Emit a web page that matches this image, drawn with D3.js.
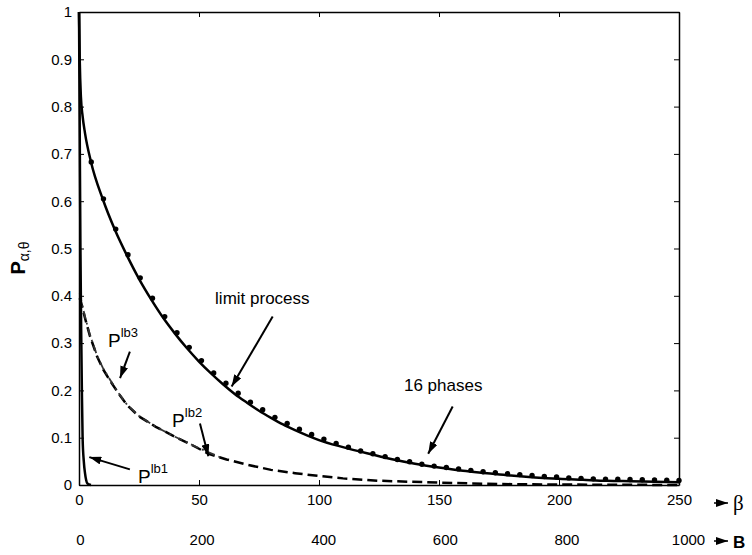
<!DOCTYPE html>
<html lang="en">
<head>
<meta charset="UTF-8">
<title>P alpha theta vs beta</title>
<script src="https://d3js.org/d3.v7.min.js"></script>
<style>
    body { margin: 0; background: #fff; }
    svg { display: block; font-family: "Liberation Sans", Arial, Helvetica, sans-serif; }
    .axis text { font-size: 15px; fill: #000; }
    .axis path, .axis line { stroke: #000; }
    .note { font-size: 17px; fill: #000; }
</style>
</head>
<body>
<svg id="chart" width="752" height="555"></svg>
<script>
// values
const betaTicks = [0, 50, 100, 150, 200, 250];
const bTicks = [0, 200, 400, 600, 800, 1000];
const pTicks = [0, 0.1, 0.2, 0.3, 0.4, 0.5, 0.6, 0.7, 0.8, 0.9, 1];

// 16 phases (markers), beta = k*250/49
const phaseBeta = d3.range(1, 50).map(k => k * 250 / 49);
const phaseP = [0.683, 0.605, 0.541, 0.487, 0.438, 0.395, 0.356, 0.322, 0.291, 0.263,
                0.237, 0.215, 0.194, 0.175, 0.159, 0.143, 0.130, 0.118, 0.107, 0.097,
                0.088, 0.080, 0.072, 0.066, 0.060, 0.054, 0.049, 0.044, 0.040, 0.037,
                0.034, 0.031, 0.028, 0.026, 0.024, 0.022, 0.020, 0.018, 0.017, 0.015,
                0.014, 0.013, 0.0125, 0.012, 0.0115, 0.011, 0.0105, 0.010, 0.0095];

// limit process (solid)
const limitBeta = [0, 0.3, 0.8, 1.5, 2.5, 5, 10, 15, 20, 25, 30, 35, 40, 45, 50, 55, 60, 65, 70, 75,
                   80, 85, 90, 95, 100, 110, 120, 130, 140, 150, 160, 170, 180, 190, 200, 210, 220, 230, 240, 250];
const limitP = [1, 0.9, 0.82, 0.78, 0.744, 0.683, 0.603, 0.539, 0.485, 0.436, 0.393, 0.354, 0.320, 0.289,
                0.261, 0.236, 0.213, 0.192, 0.174, 0.157, 0.142, 0.128, 0.116, 0.105, 0.095, 0.080, 0.067,
                0.055, 0.045, 0.037, 0.030, 0.025, 0.020, 0.016, 0.013, 0.011, 0.009, 0.008, 0.007, 0.006];

// P^lb1 (solid, steep)
const lb1Beta = [0, 0.3, 0.6, 0.9, 1.2, 1.5, 2, 2.5, 3, 3.5, 5];
const lb1P = [1, 0.75, 0.5, 0.33, 0.2, 0.1, 0.05, 0.025, 0.01, 0.003, 0];

// P^lb2 (dashed)
const lb2Beta = [0.3, 1, 2.5, 4.5, 7.5, 10, 13, 16.4, 20, 25, 32, 40, 47.6, 54, 61.5, 70, 80, 90,
                 100, 110, 125, 150, 175, 200, 250];
const lb2P = [0.395, 0.383, 0.353, 0.316, 0.272, 0.245, 0.220, 0.194, 0.169, 0.145, 0.123, 0.102,
              0.083, 0.066, 0.054, 0.043, 0.032, 0.025, 0.019, 0.014, 0.009, 0.005, 0.002, 0.001, 0];

// P^lb3 (dash-dot)
const lb3Beta = [0.3, 1, 2.5, 4.5, 7.5, 10, 13, 16.4, 20, 25, 32, 40, 50, 60];
const lb3P = [0.405, 0.388, 0.356, 0.318, 0.274, 0.247, 0.222, 0.195, 0.170, 0.146, 0.123, 0.102,
              0.078, 0.056];

// annotations in data units: text position, arrow start, arrow tip
const notes = [
    { text: "limit process", sup: null, at: [56.7, 0.383], from: [80.7, 0.356], to: [63.6, 0.208] },
    { text: "16 phases", sup: null, at: [135.4, 0.199], from: [155.7, 0.166], to: [145.5, 0.066] },
    { text: "P", sup: "lb3", at: [12.1, 0.292], from: [21.2, 0.282], to: [17.1, 0.226] },
    { text: "P", sup: "lb2", at: [38.8, 0.123], from: [50.4, 0.130], to: [53.9, 0.061] },
    { text: "P", sup: "lb1", at: [24.6, 0.004], from: [21.2, 0.033], to: [4.3, 0.059] }
];

const svg = d3.select("#chart");
const plotLeft = 79, plotRight = 679, plotTop = 12, plotBottom = 485;

const x = d3.scaleLinear().domain([0, 250]).range([plotLeft, plotRight]);
const xB = d3.scaleLinear().domain([0, 1000]).range([80, 688]);
const y = d3.scaleLinear().domain([0, 1]).range([plotBottom, plotTop]);

svg.append("defs").append("marker")
    .attr("id", "head")
    .attr("markerUnits", "userSpaceOnUse")
    .attr("viewBox", "0 0 12 8")
    .attr("refX", 12).attr("refY", 4)
    .attr("markerWidth", 12).attr("markerHeight", 8)
    .attr("orient", "auto")
    .append("path").attr("d", "M0,0L12,4L0,8Z").attr("fill", "#000");

const line = d3.line().x(d => x(d[0])).y(d => y(d[1]));

// curves
svg.append("path")
    .attr("d", line(d3.zip(lb2Beta, lb2P)))
    .attr("fill", "none").attr("stroke", "#000").attr("stroke-width", 2.5)
    .attr("stroke-dasharray", "10,5");

svg.append("path")
    .attr("d", line(d3.zip(lb3Beta, lb3P)))
    .attr("fill", "none").attr("stroke", "#333").attr("stroke-width", 1.8)
    .attr("stroke-dasharray", "8,4,2,4");

svg.append("path")
    .attr("d", line.curve(d3.curveMonotoneX)(d3.zip(limitBeta, limitP)))
    .attr("fill", "none").attr("stroke", "#000").attr("stroke-width", 2.5);

svg.append("g").selectAll("circle")
    .data(d3.zip(phaseBeta, phaseP))
    .join("circle")
    .attr("cx", d => x(d[0]))
    .attr("cy", d => y(d[1]))
    .attr("r", 2.7)
    .attr("fill", "#000");

svg.append("path")
    .attr("d", line.curve(d3.curveMonotoneX)(d3.zip(lb1Beta, lb1P)))
    .attr("fill", "none").attr("stroke", "#000").attr("stroke-width", 2.5);

// axes
svg.append("g").attr("class", "axis")
    .attr("transform", "translate(0," + plotBottom + ")")
    .call(d3.axisBottom(x).tickValues(betaTicks).tickSize(-5).tickPadding(9).tickSizeOuter(0));

svg.append("g").attr("class", "axis")
    .attr("transform", "translate(" + plotLeft + ",0)")
    .call(d3.axisLeft(y).tickValues(pTicks).tickSize(-5).tickPadding(7).tickSizeOuter(0)
        .tickFormat(d => d === 0 || d === 1 ? d3.format("d")(d) : d3.format(".1f")(d)));

svg.append("g").attr("class", "axis")
    .attr("transform", "translate(0," + plotTop + ")")
    .call(d3.axisTop(x).tickValues(betaTicks).tickSize(-5).tickFormat("").tickSizeOuter(0));

svg.append("g").attr("class", "axis")
    .attr("transform", "translate(" + plotRight + ",0)")
    .call(d3.axisRight(y).tickValues(pTicks).tickSize(-5).tickFormat("").tickSizeOuter(0));

const bAxis = svg.append("g").attr("class", "axis")
    .attr("transform", "translate(0,530)")
    .call(d3.axisBottom(xB).tickValues(bTicks).tickSize(0).tickPadding(4).tickFormat(d3.format("d")));
bAxis.select(".domain").remove();

svg.selectAll(".axis .domain").attr("stroke-width", 1.5);

// axis names
const yl = svg.append("text")
    .attr("transform", "translate(25,258) rotate(-90)")
    .attr("text-anchor", "middle")
    .attr("font-size", 20).attr("font-weight", "bold");
yl.append("tspan").text("P");
yl.append("tspan").attr("dy", 4).attr("font-size", 14).attr("font-weight", "normal").text("α,θ");

svg.append("line")
    .attr("x1", 714).attr("x2", 728).attr("y1", 503).attr("y2", 503)
    .attr("stroke", "#000").attr("stroke-width", 1.5).attr("marker-end", "url(#head)");
svg.append("text").attr("x", 733).attr("y", 510)
    .attr("font-family", "'Liberation Serif', 'DejaVu Serif', serif").attr("font-size", 21).text("β");

svg.append("line")
    .attr("x1", 714).attr("x2", 728).attr("y1", 541).attr("y2", 541)
    .attr("stroke", "#000").attr("stroke-width", 1.5).attr("marker-end", "url(#head)");
svg.append("text").attr("x", 733).attr("y", 548)
    .attr("font-size", 17).attr("font-weight", "bold").text("B");

// annotations
notes.forEach(n => {
    svg.append("line")
        .attr("x1", x(n.from[0])).attr("y1", y(n.from[1]))
        .attr("x2", x(n.to[0])).attr("y2", y(n.to[1]))
        .attr("stroke", "#000").attr("stroke-width", 2)
        .attr("marker-end", "url(#head)");
    const t = svg.append("text").attr("class", "note")
        .attr("x", x(n.at[0])).attr("y", y(n.at[1]));
    if (n.sup) {
        t.append("tspan").attr("font-size", 19).text(n.text);
        t.append("tspan").attr("font-size", 13).attr("dy", -10).text(n.sup);
    } else {
        t.text(n.text);
    }
});
</script>
</body>
</html>
